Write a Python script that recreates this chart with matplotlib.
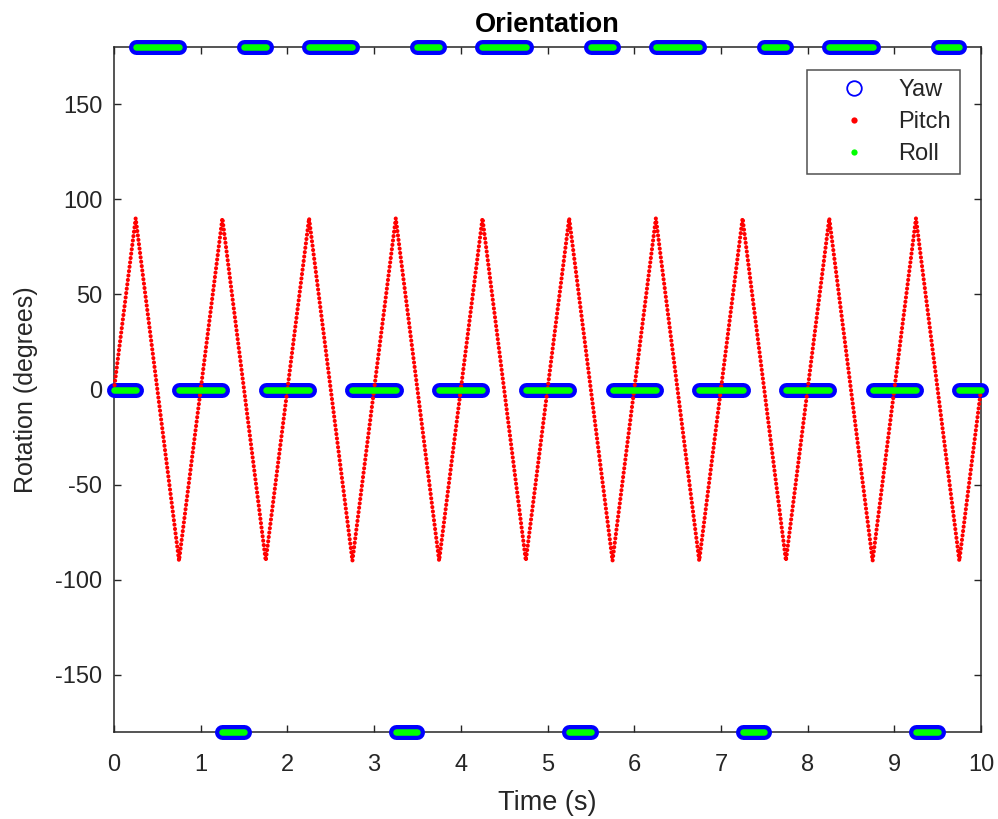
import matplotlib
matplotlib.use("Agg")
import matplotlib.pyplot as plt
from matplotlib.lines import Line2D

plt.rcParams['font.family'] = ['Liberation Sans', 'DejaVu Sans']
plt.rcParams['axes.unicode_minus'] = False

# Pitch: triangle wave vertices (time s, degrees)
pitch_t = [0, 0.25, 0.75, 1.25, 1.75, 2.25, 2.75, 3.25, 3.75, 4.25, 4.75,
           5.25, 5.75, 6.25, 6.75, 7.25, 7.75, 8.25, 8.75, 9.25, 9.75, 10]
pitch_v = [0, 90, -90, 90, -90, 90, -90, 90, -90, 90, -90,
           90, -90, 90, -90, 90, -90, 90, -90, 90, -90, 0]

# Yaw / Roll: constant segments (start s, end s, value degrees)
seg_start = [0, 0.25, 0.75, 1.25, 1.5, 1.75, 2.25, 2.75, 3.25, 3.5, 3.75,
             4.25, 4.75, 5.25, 5.5, 5.75, 6.25, 6.75, 7.25, 7.5, 7.75,
             8.25, 8.75, 9.25, 9.5, 9.75]
seg_end = [0.25, 0.75, 1.25, 1.5, 1.75, 2.25, 2.75, 3.25, 3.5, 3.75, 4.25,
           4.75, 5.25, 5.5, 5.75, 6.25, 6.75, 7.25, 7.5, 7.75, 8.25,
           8.75, 9.25, 9.5, 9.75, 10]
seg_value = [0, 180, 0, -180, 180, 0, 180, 0, -180, 180, 0,
             180, 0, -180, 180, 0, 180, 0, -180, 180, 0,
             180, 0, -180, 180, 0]

x_ticks = [0, 1, 2, 3, 4, 5, 6, 7, 8, 9, 10]
y_ticks = [-150, -100, -50, 0, 50, 100, 150]

fig = plt.figure(figsize=(9.98, 8.19), dpi=100)
ax = fig.add_axes([114/998, 1-732/819, (981-114)/998, (732-47)/819])

axc = '#262626'
# Yaw (blue circles merged into bars)
for s, e, v in zip(seg_start, seg_end, seg_value):
    ax.plot([s, e], [v, v], color=(0, 0, 1), lw=10.8, solid_capstyle='round',
            clip_on=False, zorder=3)
# Pitch (red dots)
ax.plot(pitch_t, pitch_v, color=(1, 0, 0), lw=3.0, linestyle=(0, (0.01, 1.05)),
        dash_capstyle='round', clip_on=False, zorder=4)
# Roll (green dots)
for s, e, v in zip(seg_start, seg_end, seg_value):
    ax.plot([s, e], [v, v], color=(0, 1, 0), lw=4.7, solid_capstyle='round',
            clip_on=False, zorder=5)

ax.set_xlim(0, 10)
ax.set_ylim(-180, 180)
ax.set_xticks(x_ticks)
ax.set_yticks(y_ticks)
ax.tick_params(direction='in', top=True, right=True, length=5, width=1,
               colors=axc, labelsize=17)
ax.tick_params(axis='x', pad=16)
ax.tick_params(axis='y', pad=8.5)
for sp in ax.spines.values():
    sp.set_color(axc)
    sp.set_linewidth(1.1)
ax.set_xlabel('Time (s)', fontsize=19.5, color=axc, labelpad=10)
ax.set_ylabel('Rotation (degrees)', fontsize=18, color=axc, labelpad=12)
ax.set_title('Orientation', fontsize=19.5, fontweight='bold', color='black', pad=11)

handles = [
    Line2D([], [], marker='o', linestyle='none', markerfacecolor='none',
           markeredgecolor=(0, 0, 1), markersize=10.5, markeredgewidth=1.3),
    Line2D([], [], marker='o', linestyle='none', color=(1, 0, 0),
           markersize=4.5, markeredgewidth=0),
    Line2D([], [], marker='o', linestyle='none', color=(0, 1, 0),
           markersize=4.5, markeredgewidth=0),
]
leg = ax.legend(handles, ['Yaw', 'Pitch', 'Roll'], loc='upper right',
                bbox_to_anchor=(0.9758, 0.9664), fontsize=17, frameon=True,
                fancybox=False, edgecolor=axc, handletextpad=0.3,
                borderpad=0.38, labelspacing=0.42, handlelength=3.2,
                borderaxespad=0)
leg.get_frame().set_linewidth(1.1)
for t in leg.get_texts():
    t.set_color(axc)

fig.savefig('out.png', dpi=100)
